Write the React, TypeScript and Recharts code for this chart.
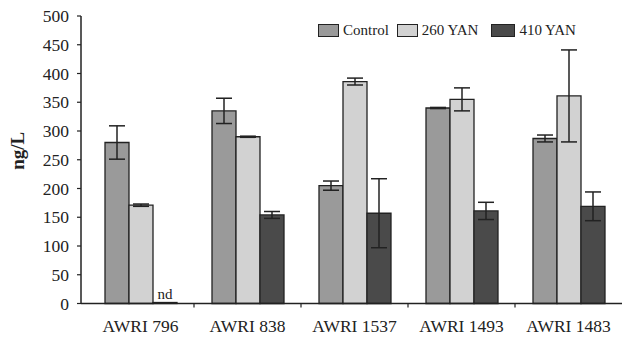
import React from 'react';
import { BarChart, Bar, XAxis, YAxis, Legend, ErrorBar, LabelList } from 'recharts';

const strains = ['AWRI 796', 'AWRI 838', 'AWRI 1537', 'AWRI 1493', 'AWRI 1483'];
const control = [280, 335, 205, 340, 287];
const controlErr = [29, 22, 8, 1, 6];
const yan260 = [171, 290, 386, 355, 361];
const yan260Err = [2, 1, 6, 20, 80];
const yan410 = [0, 154, 157, 161, 169];
const yan410Err = [0, 6, 60, 15, 25];
const yTicks = [0, 50, 100, 150, 200, 250, 300, 350, 400, 450, 500];

const series = [
  { key: 'control', err: 'controlErr', name: 'Control', fill: '#9a9a9a' },
  { key: 'yan260', err: 'yan260Err', name: '260 YAN', fill: '#d2d2d2' },
  { key: 'yan410', err: 'yan410Err', name: '410 YAN', fill: '#4a4a4a' },
];

const data = strains.map((s, i) => ({
  strain: s,
  control: control[i],
  controlErr: controlErr[i],
  yan260: yan260[i],
  yan260Err: yan260Err[i],
  yan410: yan410[i],
  yan410Err: yan410Err[i],
}));

const FONT = '"Liberation Serif", "Times New Roman", Times, serif';
const INK = '#222';
const X_MARGIN = 16;
const X_PAD_LEFT = 6;

// label plus a small tick at the left edge of each band (not the first)
const StrainTick = (props: any) => {
  const { x, y, payload } = props;
  let idx = props.index ?? payload.index;
  if (idx == null) idx = strains.indexOf(payload.value);
  let half = payload.offset;
  if (!half) {
    const n = props.visibleTicksCount || strains.length;
    half = ((props.width || 541) - X_PAD_LEFT) / n / 2;
  }
  const axisY = y - X_MARGIN;
  return (
    <g>
      {idx > 0 && (
        <line x1={x - half} x2={x - half} y1={axisY} y2={axisY + 4} stroke={INK} strokeWidth={1.2} />
      )}
      <text x={x} y={y} dy="0.71em" textAnchor="middle" fill={INK} fontSize={17.5} style={{ fontFamily: FONT }}>
        {payload.value}
      </text>
    </g>
  );
};

const ValueTick = (props: any) => {
  const { x, y, payload } = props;
  return (
    <text x={x} y={y} dy="0.355em" textAnchor="end" fill={INK} fontSize={17.5} style={{ fontFamily: FONT }}>
      {payload.value}
    </text>
  );
};

const LegendBox = () => (
  <div style={{ display: 'flex', alignItems: 'center', fontFamily: FONT, fontSize: 15, color: INK }}>
    {series.map((s, i) => (
      <div key={s.key} style={{ display: 'flex', alignItems: 'center', marginRight: i === 1 ? 13 : 8 }}>
        <div
          style={{
            width: i === 2 ? 22 : 19,
            height: 11,
            background: s.fill,
            border: `1px solid ${INK}`,
            marginRight: 4,
          }}
        />
        <span>{s.name}</span>
      </div>
    ))}
  </div>
);

const NdLabel = (props: any) => {
  const { x, y, width, value } = props;
  if (Number(value) !== 0) return null;
  return (
    <text x={x + width / 2} y={y - 4} textAnchor="middle" fill={INK} fontSize={15} style={{ fontFamily: FONT }}>
      nd
    </text>
  );
};

const YLabel = (props: any) => {
  const vb = props.viewBox;
  const cx = vb.x + 17;
  const cy = vb.y + vb.height / 2 - 9;
  return (
    <text
      x={cx}
      y={cy}
      transform={`rotate(-90, ${cx}, ${cy})`}
      textAnchor="middle"
      dominantBaseline="central"
      fill={INK}
      fontSize={19}
      fontWeight="bold"
      style={{ fontFamily: FONT }}
    >
      ng/L
    </text>
  );
};

export default function App() {
  return (
    <div style={{ position: 'fixed', left: 0, top: 0, width: 624, height: 337, background: '#fff' }}>
      <BarChart
        width={624}
        height={337}
        data={data}
        margin={{ top: 16, right: 2, bottom: 0, left: 0 }}
        barGap={0}
        barCategoryGap={17}
      >
        <XAxis
          dataKey="strain"
          height={33.5}
          padding={{ left: X_PAD_LEFT, right: 0 }}
          axisLine={{ stroke: INK, strokeWidth: 1.5 }}
          tickLine={false}
          tickSize={0}
          tickMargin={X_MARGIN}
          tick={<StrainTick />}
          interval={0}
        />
        <YAxis
          width={81}
          domain={[0, 500]}
          ticks={yTicks}
          interval={0}
          axisLine={{ stroke: INK, strokeWidth: 1.5 }}
          tickLine={{ stroke: INK, strokeWidth: 1.2 }}
          tickSize={4}
          tickMargin={8}
          tick={<ValueTick />}
          label={<YLabel />}
        />
        <Legend
          verticalAlign="middle"
          align="center"
          content={<LegendBox />}
          wrapperStyle={{ position: 'absolute', top: 22, left: 318, width: 300, height: 16 }}
        />
        {series.map((s) => (
          <Bar
            key={s.key}
            dataKey={s.key}
            name={s.name}
            fill={s.fill}
            stroke={INK}
            strokeWidth={1.3}
            barSize={24}
            minPointSize={1}
            isAnimationActive={false}
          >
            <ErrorBar dataKey={s.err} width={8} stroke={INK} strokeWidth={1.5} />
            {s.key === 'yan410' && <LabelList dataKey="yan410" content={<NdLabel />} />}
          </Bar>
        ))}
      </BarChart>
    </div>
  );
}
